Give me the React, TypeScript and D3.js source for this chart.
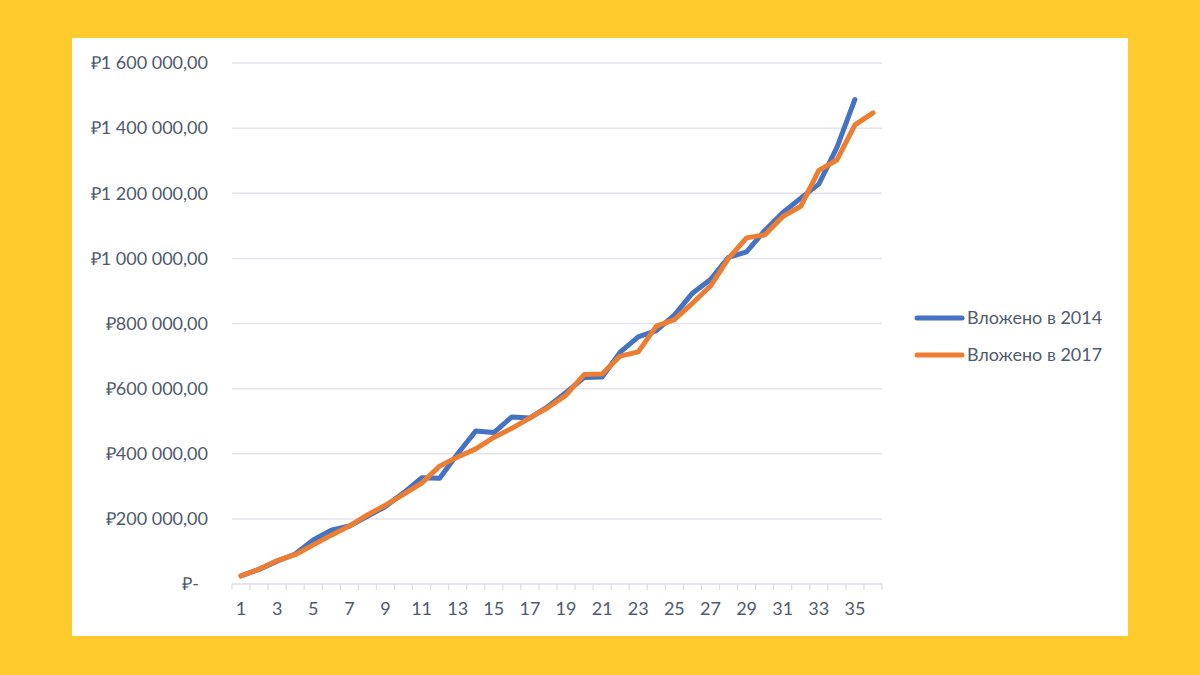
import React from "react";
import * as d3 from "d3";

const categories: number[] = Array.from({ length: 36 }, (_, i) => i + 1);
const xTickLabels: number[] = [1, 3, 5, 7, 9, 11, 13, 15, 17, 19, 21, 23, 25, 27, 29, 31, 33, 35];
const yTicks: number[] = [0, 200000, 400000, 600000, 800000, 1000000, 1200000, 1400000, 1600000];

// values in thousands of rubles
const invested2014: number[] = [
  25, 45, 70, 92, 135, 165, 178, 208, 238, 280, 326, 325, 400, 470, 465, 513, 510, 545,
  588, 634, 636, 712, 759, 778, 826, 893, 935, 1003, 1020, 1085, 1140, 1185, 1228, 1340, 1488,
];
const invested2017: number[] = [
  25, 45, 72, 90, 120, 150, 178, 212, 242, 275, 310, 362, 390, 415, 450, 478, 510, 542,
  580, 643, 645, 700, 713, 792, 812, 862, 915, 1000, 1063, 1072, 1128, 1160, 1270, 1302, 1410, 1447,
];
const seriesNames: string[] = ["Вложено в 2014", "Вложено в 2017"];
const seriesColors: string[] = ["#4472C4", "#ED7D31"];

const W = 1200;
const H = 675;
const plotLeft = 232;
const plotRight = 882;
const plotTop = 63;
const plotBottom = 584;

function fmt(v: number): string {
  if (v === 0) return "₽-";
  const s = d3.format(",.2f")(v).replace(/,/g, " ").replace(".", ",");
  return "₽" + s;
}

export default function App() {
  const x = d3.scaleBand<number>().domain(categories).range([plotLeft, plotRight]);
  const y = d3.scaleLinear().domain([0, 1600000]).range([plotBottom, plotTop]);
  const cx = (i: number) => (x(categories[i]) as number) + x.bandwidth() / 2;
  const line = d3
    .line<number>()
    .x((_, i) => cx(i))
    .y((v) => y(v * 1000));
  const series = [invested2014, invested2017];
  const textColor = "#4F5A6D";
  const font = "Lato, 'Open Sans', sans-serif";
  const fs = 18;
  const tickXs = d3.range(categories.length + 1).map((i) => plotLeft + i * x.bandwidth());

  return (
    <div style={{ position: "fixed", left: 0, top: 0 }}>
      <svg width={W} height={H} style={{ display: "block" }}>
        <rect x={0} y={0} width={W} height={H} fill="#FFCA2C" />
        <rect x={72} y={38} width={1056} height={598} fill="#FFFFFF" />
        {yTicks.map((t) => (
          <g key={t}>
            {t > 0 && (
              <line x1={plotLeft} x2={plotRight} y1={y(t)} y2={y(t)} stroke="#E3E4EC" strokeWidth={1.5} />
            )}
            <text
              x={t === 0 ? 199 : 208}
              y={y(t)}
              dy="0.35em"
              textAnchor="end"
              fontFamily={font}
              fontSize={fs}
              fill={textColor}
            >
              {fmt(t)}
            </text>
          </g>
        ))}
        <line x1={plotLeft} x2={plotRight} y1={plotBottom} y2={plotBottom} stroke="#DCDDE4" strokeWidth={1.5} />
        {tickXs.map((tx, i) => (
          <line key={i} x1={tx} x2={tx} y1={plotBottom} y2={plotBottom + 6} stroke="#DCDDE4" strokeWidth={1.2} />
        ))}
        {xTickLabels.map((c) => (
          <text
            key={c}
            x={(x(c) as number) + x.bandwidth() / 2}
            y={609}
            dy="0.35em"
            textAnchor="middle"
            fontFamily={font}
            fontSize={fs}
            fill={textColor}
          >
            {c}
          </text>
        ))}
        {series.map((s, k) => (
          <path
            key={k}
            d={line(s) as string}
            fill="none"
            stroke={seriesColors[k]}
            strokeWidth={5}
            strokeLinejoin="round"
            strokeLinecap="round"
          />
        ))}
        {seriesNames.map((n, k) => (
          <g key={n} transform={`translate(917, ${318 + k * 37})`}>
            <line x1={0} x2={45} y1={0} y2={0} stroke={seriesColors[k]} strokeWidth={5} strokeLinecap="round" />
            <text x={50} y={0} dy="0.35em" fontFamily={font} fontSize={fs} fill={textColor}>
              {n}
            </text>
          </g>
        ))}
      </svg>
    </div>
  );
}
